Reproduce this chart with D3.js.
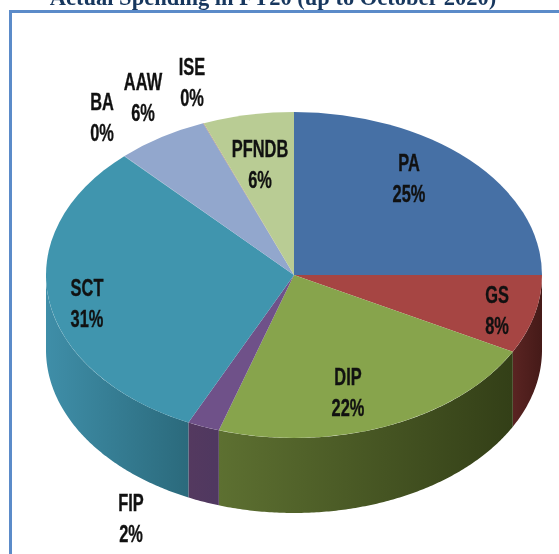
<!DOCTYPE html>
<html>
<head>
<meta charset="utf-8">
<script src="https://cdn.jsdelivr.net/npm/d3@7"></script>
<style>
  html, body { margin: 0; padding: 0; background: #fff; }
  svg { display: block; filter: blur(0.4px); }
  .label { font-family: "Liberation Sans", sans-serif; font-weight: bold; font-size: 20px; fill: #111; stroke: #111; stroke-width: 0.3px; text-anchor: middle; dominant-baseline: central; }
</style>
</head>
<body>
<div class="canvas"></div>
<script>
const title = 'Actual Spending in FY20 (up to October 2020)';
const categories = ['PA', 'GS', 'DIP', 'FIP', 'SCT', 'BA', 'AAW', 'ISE', 'PFNDB'];
const shares = [25, 7.8, 22.1, 2.1, 31, 0.03, 6, 0.05, 5.92];
const topColors = ['#4670a5', '#a64543', '#87a44c', '#6f5189', '#4095ae', '#6f9cb5', '#92a7cd', '#b08a70', '#b9cc94'];
const wallLight = ['#3a5c88', '#5a2422', '#5d7031', '#54395f', '#3f8ea8', '#8a4a2c', '#6f82a3', '#8a6c58', '#8ca06c'];
const wallDark = ['#2f4c70', '#451a18', '#333f17', '#4f3860', '#2b6a7c', '#703a22', '#5a6a86', '#6f5646', '#72835a'];

const canvasWidth = 559;
const canvasHeight = 554;
const centre = { x: 294, y: 275 };
const rx = 248;
const ry = 163;
const depth = 75;

// label centres, name line then percent line sits 31px below
const labelSpots = {
  PA: [409, 163], GS: [497, 295], DIP: [348, 377], FIP: [131, 503], SCT: [87, 288],
  BA: [102, 102], AAW: [143, 82], ISE: [192, 67], PFNDB: [260, 149]
};

const svg = d3
  .select('.canvas')
  .append('svg')
  .attr('width', canvasWidth)
  .attr('height', canvasHeight);

// title is clipped by the top of the picture
svg
  .append('text')
  .attr('x', 273)
  .attr('y', 5)
  .attr('text-anchor', 'middle')
  .attr('font-family', '"Liberation Serif", serif')
  .attr('font-weight', 'bold')
  .attr('font-size', 22.5)
  .attr('fill', '#17375e')
  .text(title);

// frame
svg
  .append('path')
  .attr('d', `M10.5,${canvasHeight}V11.5H${canvasWidth}`)
  .attr('fill', 'none')
  .attr('stroke', '#5b8bc9')
  .attr('stroke-width', 3);

const pie = d3.pie().sort(null).value(d => d);
const arcs = pie(shares);

const px = a => rx * Math.sin(a);
const py = a => -ry * Math.cos(a);

const defs = svg.append('defs');
const chart = svg.append('g').attr('transform', `translate(${centre.x}, ${centre.y})`);

// side walls, only the front half of the pie shows
const wallLine = d3.line();
const front = [Math.PI / 2, (3 * Math.PI) / 2];
arcs.forEach((d, i) => {
  const a0 = Math.max(d.startAngle, front[0]);
  const a1 = Math.min(d.endAngle, front[1]);
  if (a1 <= a0) return;

  const steps = d3.range(a0, a1, 0.01).concat([a1]);
  const top = steps.map(a => [px(a), py(a)]);
  const bottom = steps.map(a => [px(a), py(a) + depth]).reverse();

  const x0 = d3.min(top, p => p[0]);
  const x1 = d3.max(top, p => p[0]);
  const grad = defs
    .append('linearGradient')
    .attr('id', `wall${i}`)
    .attr('gradientUnits', 'userSpaceOnUse')
    .attr('x1', x0)
    .attr('x2', x1)
    .attr('y1', 0)
    .attr('y2', 0);
  grad.append('stop').attr('offset', 0).attr('stop-color', wallLight[i]);
  grad.append('stop').attr('offset', 1).attr('stop-color', wallDark[i]);

  chart
    .append('path')
    .attr('d', wallLine(top.concat(bottom)) + 'Z')
    .attr('fill', `url(#wall${i})`);
});

// top face, unit arc squashed into the ellipse
const arc = d3.arc().innerRadius(0).outerRadius(rx);
chart
  .append('g')
  .attr('transform', `scale(1, ${ry / rx})`)
  .selectAll('path')
  .data(arcs)
  .enter()
  .append('path')
  .attr('d', arc)
  .attr('fill', (d, i) => topColors[i]);

// labels, squeezed because the original face is a condensed one
const addLabel = (x, y, text) =>
  svg
    .append('text')
    .attr('class', 'label')
    .attr('transform', `translate(${x}, ${y}) scale(0.82, 1.15)`)
    .text(text);

categories.forEach((name, i) => {
  const [lx, ly] = labelSpots[name];
  addLabel(lx, ly, name);
  addLabel(lx, ly + 31, `${Math.round(shares[i])}%`);
});
</script>
</body>
</html>
